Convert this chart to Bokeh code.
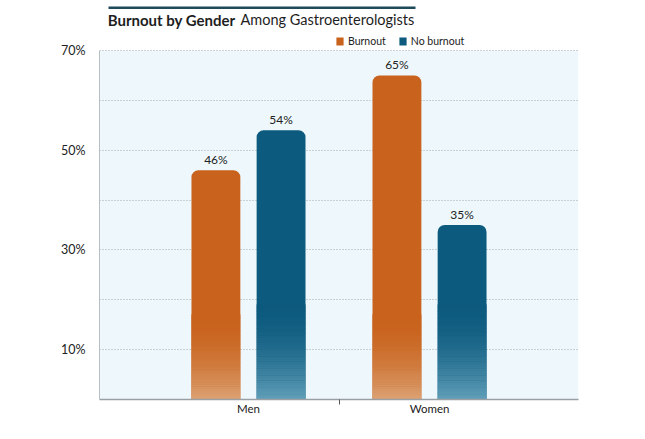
import numpy as np
from bokeh.plotting import figure
from bokeh.models import (ColumnDataSource, Range1d, FixedTicker, PrintfTickFormatter,
                          BoxAnnotation, Label, Legend, LegendItem)
from bokeh.core.properties import value
from bokeh.embed import file_html
from bokeh.resources import INLINE

# ---- data ----
categories = ["Men", "Women"]
burnout = [46, 65]
no_burnout = [54, 35]
y_ticks = [10, 30, 50, 70]
grid_ticks = [10, 20, 30, 40, 50, 60, 70]
series_names = ["Burnout", "No burnout"]

FONT = "Lato"
ORANGE = "#C8621C"
ORANGE_LIGHT = "#DCA274"
BLUE = "#0C5A7E"
BLUE_LIGHT = "#62A0BA"

idx = np.arange(len(categories))
off = 0.18
bw = 0.27

p = figure(width=645, height=439, output_backend="svg", toolbar_location=None,
           x_range=Range1d(-0.823, 1.823), y_range=Range1d(0, 80.03),
           min_border_left=99, min_border_right=67, min_border_top=0, min_border_bottom=40)
p.outline_line_color = None
p.background_fill_color = "white"
p.border_fill_color = "white"

# plot-area background (drawn beneath grid)
bg = BoxAnnotation(bottom=0, top=70, fill_color="#EEF8FC", fill_alpha=1.0,
                   line_color=None, level="underlay")
p.center = [bg] + list(p.center)

# grid
p.xgrid.visible = False
p.ygrid.ticker = FixedTicker(ticks=grid_ticks)
p.ygrid.grid_line_color = "#A4ABAF"
p.ygrid.grid_line_dash = "1 2"
p.ygrid.grid_line_width = 1

# axes
p.yaxis.ticker = FixedTicker(ticks=y_ticks)
p.yaxis.formatter = PrintfTickFormatter(format="%d%%")
p.yaxis.bounds = (0, 70)
p.yaxis.axis_line_color = "#B8C0C4"
p.yaxis.major_tick_line_color = None
p.yaxis.major_tick_out = 0
p.yaxis.major_tick_in = 0
p.yaxis.minor_tick_line_color = None
p.yaxis.major_label_text_font = FONT
p.yaxis.major_label_text_font_size = "12.5px"
p.yaxis.major_label_text_color = "#222222"
p.yaxis.major_label_standoff = 14

p.xaxis.ticker = FixedTicker(ticks=list(idx), minor_ticks=[0.5])
p.xaxis.major_label_overrides = {int(i): c for i, c in zip(idx, categories)}
p.xaxis.axis_line_color = "#9A9FA3"
p.xaxis.axis_line_width = 1.5
p.xaxis.major_tick_line_color = None
p.xaxis.major_tick_out = 0
p.xaxis.major_tick_in = 0
p.xaxis.minor_tick_line_color = "#555555"
p.xaxis.minor_tick_in = 0
p.xaxis.minor_tick_out = 5
p.xaxis.major_label_text_font = FONT
p.xaxis.major_label_text_font_size = "11.5px"
p.xaxis.major_label_text_color = "#222222"
p.xaxis.major_label_standoff = -3

def mix(c1, c2, t):
    a = [int(c1[i:i+2], 16) for i in (1, 3, 5)]
    b = [int(c2[i:i+2], 16) for i in (1, 3, 5)]
    return "#%02x%02x%02x" % tuple(int(round(a[k] + (b[k] - a[k]) * t)) for k in range(3))

renderers = []
for vals, o, base, light, fade_top in [(burnout, -off, ORANGE, ORANGE_LIGHT, 17.0),
                                       (no_burnout, off, BLUE, BLUE_LIGHT, 19.0)]:
    xs = idx + o
    src = ColumnDataSource(dict(x=xs, top=vals, lab=[f"{v}%" for v in vals]))
    r = p.vbar(x="x", top="top", bottom=0, width=bw, source=src,
               fill_color=base, line_color=None, border_radius=(7, 7, 0, 0))
    renderers.append(r)
    # bottom fade (smooth)
    n = 40
    edges = np.linspace(0, fade_top, n + 1)
    fx, fb, ft, fc = [], [], [], []
    for xv in xs:
        for k in range(n):
            t = (k + 0.5) / n
            s = 1 - (1 - t) ** 1.8
            fx.append(xv); fb.append(edges[k]); ft.append(edges[k + 1] + 0.08)
            fc.append(mix(light, base, s))
    p.vbar(x=fx, bottom=fb, top=ft, width=bw, fill_color=fc, line_color=None)
    p.text(x="x", y="top", text="lab", source=src, text_align="center",
           text_baseline="bottom", y_offset=-3, text_font=value(FONT),
           text_font_size="12px", text_color="#222222")

legend = Legend(items=[LegendItem(label=series_names[0], renderers=[renderers[0]]),
                       LegendItem(label=series_names[1], renderers=[renderers[1]])],
                location=(236, 352), orientation="horizontal",
                padding=0, margin=0, spacing=12, label_standoff=4,
                glyph_width=9, glyph_height=10, label_height=11,
                label_text_font=FONT, label_text_font_size="10.5px",
                label_text_color="#222222", background_fill_alpha=0,
                border_line_color=None)
p.add_layout(legend, "center")

# title
p.add_layout(Label(x=136, y=380, x_units="screen", y_units="screen",
                   text="Burnout by Gender", text_align="right",
                   text_baseline="alphabetic", text_font=FONT,
                   text_font_style="bold", text_font_size="15px", text_color="#1E1E1E"))
p.add_layout(Label(x=141, y=380, x_units="screen", y_units="screen",
                   text="Among Gastroenterologists", text_align="left",
                   text_baseline="alphabetic", text_font=FONT,
                   text_font_size="14.5px", text_color="#1E1E1E"))
p.add_layout(BoxAnnotation(left=9, right=316, bottom=390.5, top=393,
                           left_units="screen", right_units="screen",
                           bottom_units="screen", top_units="screen",
                           fill_color="#1F4A5A", fill_alpha=1, line_color=None))

open("out.html", "w").write(file_html(p, INLINE))
